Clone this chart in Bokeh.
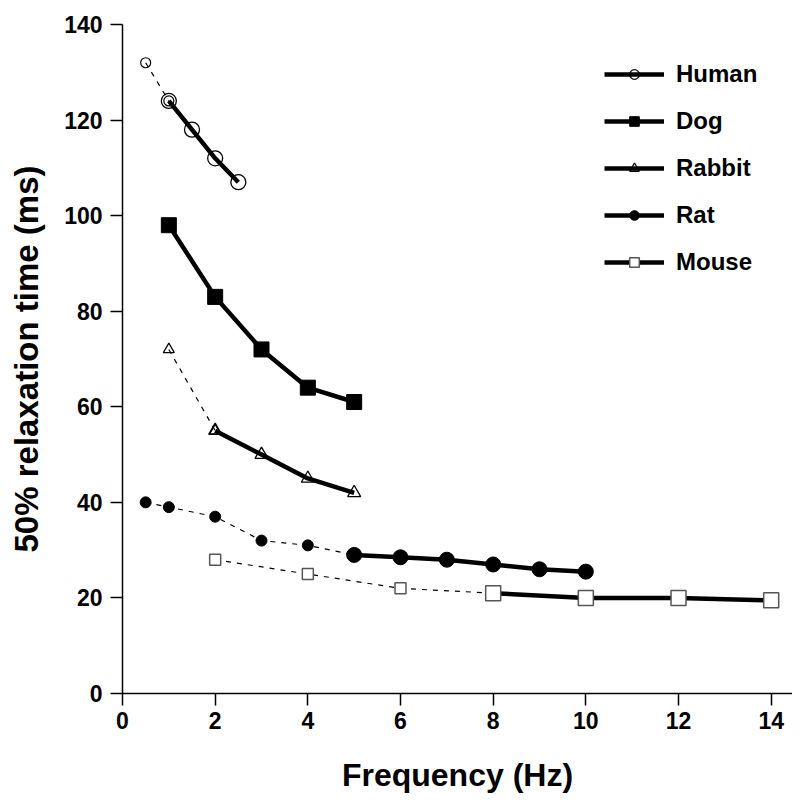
from bokeh.plotting import figure
from bokeh.models import Legend, LegendItem, FixedTicker, Range1d
from bokeh.embed import file_html
from bokeh.resources import INLINE

# ---- data ----
human_x_dash = [0.5, 1.0]
human_y_dash = [132, 124]
human_x = [1.0, 1.5, 2.0, 2.5]
human_y = [124, 118, 112, 107]

dog_x = [1, 2, 3, 4, 5]
dog_y = [98, 83, 72, 64, 61]

rabbit_x_dash = [1, 2]
rabbit_y_dash = [72, 55]
rabbit_x = [2, 3, 4, 5]
rabbit_y = [55, 50, 45, 42]

rat_x_dash = [0.5, 1, 2, 3, 4, 5]
rat_y_dash = [40, 39, 37, 32, 31, 29]
rat_x = [5, 6, 7, 8, 9, 10]
rat_y = [29, 28.5, 28, 27, 26, 25.5]

mouse_x_dash = [2, 4, 6, 8]
mouse_y_dash = [28, 25, 22, 21]
mouse_x = [8, 10, 12, 14]
mouse_y = [21, 20, 20, 19.5]

x_ticks = [0, 2, 4, 6, 8, 10, 12, 14]
y_ticks = [0, 20, 40, 60, 80, 100, 120, 140]

FONT = "Liberation Sans"

p = figure(width=792, height=802, output_backend="svg", toolbar_location=None,
           x_range=Range1d(0, 14.46), y_range=Range1d(0, 140),
           min_border_left=122, min_border_right=0, min_border_top=24,
           min_border_bottom=109)
p.outline_line_color = None
p.xgrid.visible = False
p.ygrid.visible = False
p.background_fill_color = "white"

for ax in (p.xaxis[0], p.yaxis[0]):
    ax.axis_line_width = 1.5
    ax.axis_line_color = "black"
    ax.major_tick_line_width = 1.5
    ax.major_tick_out = 12
    ax.major_tick_in = 0
    ax.minor_tick_out = 0
    ax.minor_tick_in = 0
    ax.major_label_text_font = FONT
    ax.major_label_text_font_style = "bold"
    ax.major_label_text_font_size = "23px"
    ax.major_label_text_color = "black"
    ax.axis_label_text_font = FONT
    ax.axis_label_text_font_style = "bold"
    ax.axis_label_text_color = "black"

p.xaxis.axis_label_text_font_size = "32px"
p.yaxis.axis_label_text_font_size = "33px"
p.xaxis.ticker = FixedTicker(ticks=x_ticks)
p.yaxis.ticker = FixedTicker(ticks=y_ticks)
p.xaxis.axis_label = "Frequency (Hz)"
p.yaxis.axis_label = "50% relaxation time (ms)"
p.xaxis.major_label_standoff = 6
p.yaxis.major_label_standoff = 8
p.xaxis.axis_label_standoff = 25
p.yaxis.axis_label_standoff = 16

DASH_W = 1.2
SOLID_W = 4.5

# dashed segments
p.line(human_x_dash, human_y_dash, line_color="black", line_width=DASH_W, line_dash="5 6")
p.line(rabbit_x_dash, rabbit_y_dash, line_color="black", line_width=DASH_W, line_dash="5 6")
p.line(rat_x_dash, rat_y_dash, line_color="black", line_width=DASH_W, line_dash="5 6")
p.line(mouse_x_dash, mouse_y_dash, line_color="black", line_width=DASH_W, line_dash="5 6")

# solid segments
h_line = p.line(human_x, human_y, line_color="black", line_width=SOLID_W)
d_line = p.line(dog_x, dog_y, line_color="black", line_width=SOLID_W)
r_line = p.line(rabbit_x, rabbit_y, line_color="black", line_width=SOLID_W)
t_line = p.line(rat_x, rat_y, line_color="black", line_width=SOLID_W)
m_line = p.line(mouse_x, mouse_y, line_color="black", line_width=SOLID_W)

# small markers on dashed parts
p.scatter(human_x_dash, human_y_dash, marker="circle", size=10, fill_color=None,
          line_color="black", line_width=1.2)
p.scatter(rabbit_x_dash, rabbit_y_dash, marker="triangle", size=11, fill_color=None,
          line_color="black", line_width=1.2)
p.scatter(rat_x_dash, rat_y_dash, marker="circle", size=11, fill_color="black",
          line_color="black")
p.scatter(mouse_x_dash, mouse_y_dash, marker="square", size=11, fill_color="white",
          line_color="#555555", line_width=1.5)

# large markers on solid parts
h_mk = p.scatter(human_x, human_y, marker="circle", size=15, fill_color=None,
                 line_color="black", line_width=1.3)
d_mk = p.scatter(dog_x, dog_y, marker="square", size=15, fill_color="black",
                 line_color="black")
r_mk = p.scatter(rabbit_x, rabbit_y, marker="triangle", size=13, fill_color=None,
                 line_color="black", line_width=1.3)
t_mk = p.scatter(rat_x, rat_y, marker="circle", size=15, fill_color="black",
                 line_color="black")
m_mk = p.scatter(mouse_x, mouse_y, marker="square", size=15, fill_color="white",
                 line_color="#555555", line_width=1.5)

legend = Legend(items=[
    LegendItem(label="Human", renderers=[h_line, h_mk]),
    LegendItem(label="Dog", renderers=[d_line, d_mk]),
    LegendItem(label="Rabbit", renderers=[r_line, r_mk]),
    LegendItem(label="Rat", renderers=[t_line, t_mk]),
    LegendItem(label="Mouse", renderers=[m_line, m_mk]),
], location=(482, 417))
legend.border_line_color = None
legend.background_fill_alpha = 0
legend.padding = 0
legend.margin = 0
legend.glyph_width = 60
legend.glyph_height = 24
legend.label_height = 24
legend.spacing = 19
legend.label_standoff = 12
legend.label_text_font = FONT
legend.label_text_font_style = "bold"
legend.label_text_font_size = "24px"
legend.label_text_color = "black"
p.add_layout(legend)

open("out.html", "w").write(file_html(p, INLINE))
